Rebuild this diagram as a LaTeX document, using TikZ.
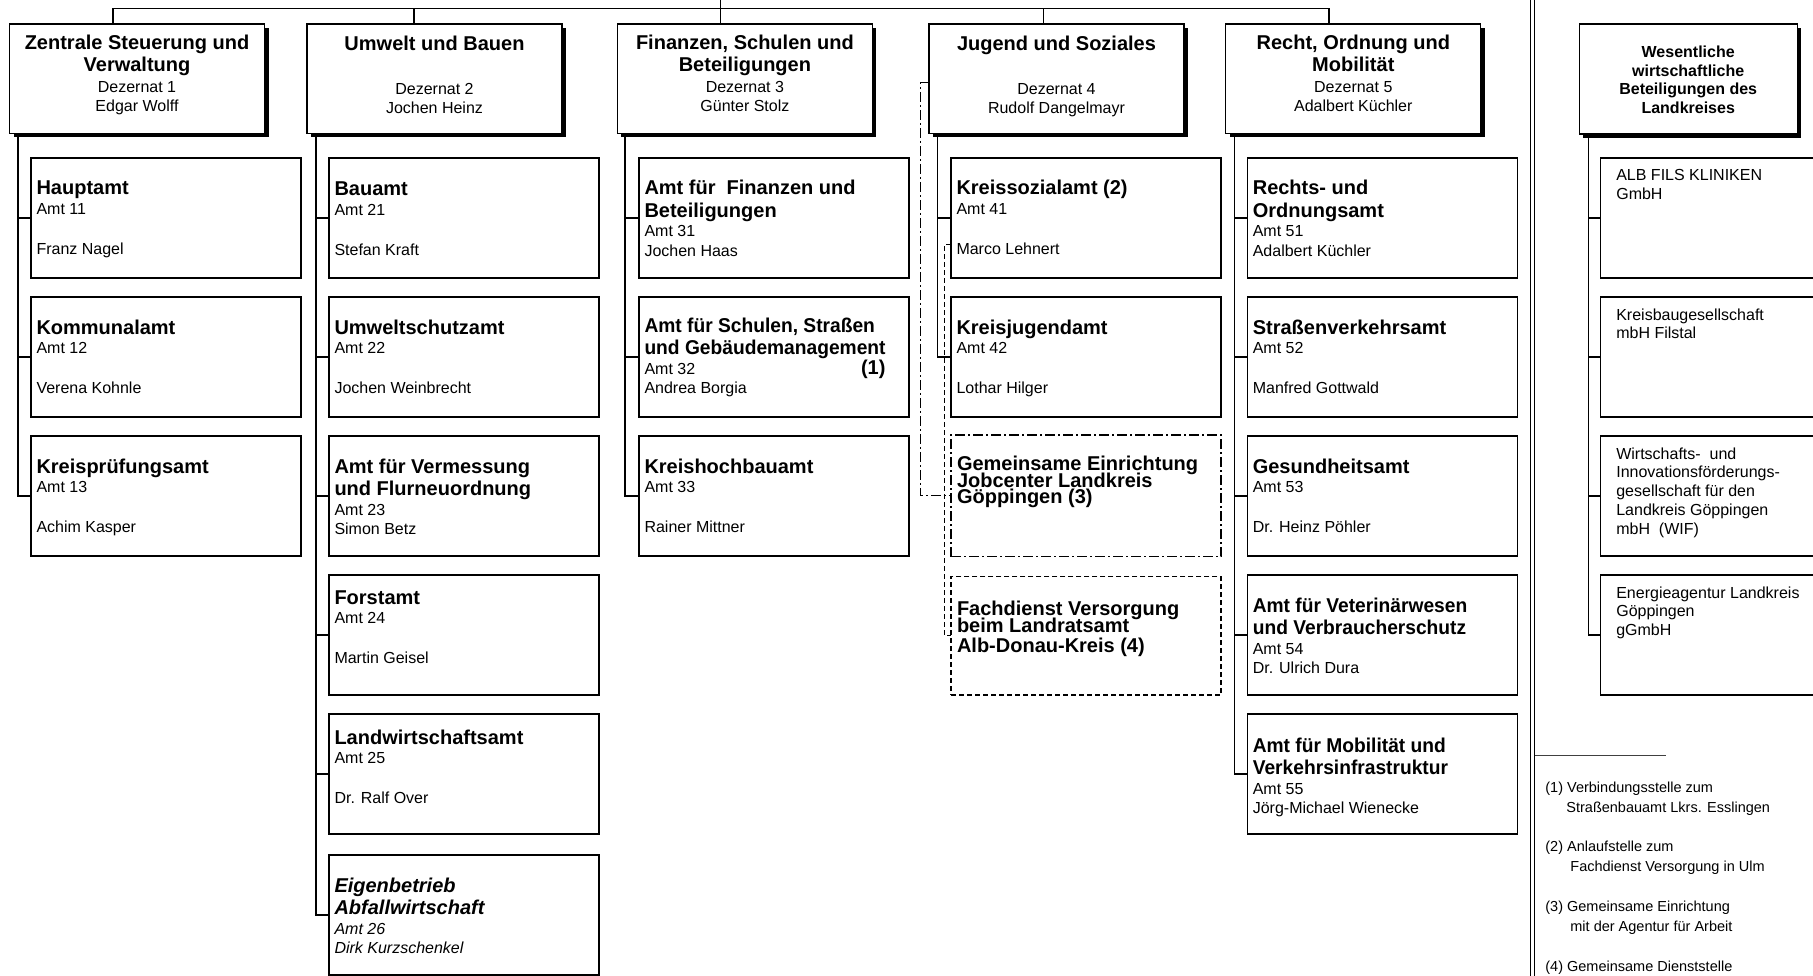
\documentclass[tikz,border=0pt]{standalone}
\usepackage{fontspec}
\setmainfont{Liberation Sans}
\usetikzlibrary{shadows,calc}

% horizontally condensed line (as in the original layout)
\newcommand{\sx}[1]{\scalebox{0.96}[1]{#1}}
% Amt box with one title line
\newcommand{\amtA}[4][37]{\parbox[c][120pt][t]{259pt}{\lineskiplimit=-100pt\fontsize{16}{19.5}\selectfont\raggedright\rule{0pt}{#1pt}{\fontsize{20}{20}\selectfont\bfseries #2}\\{#3}\\[20.5pt]{#4}}}
% Amt box with two title lines
\newcommand{\amtB}[5][37]{\parbox[c][120pt][t]{259pt}{\lineskiplimit=-100pt\fontsize{16}{19.5}\selectfont\raggedright\rule{0pt}{#1pt}{\fontsize{20}{20}\selectfont\bfseries #2}\\[3pt]{\fontsize{20}{20}\selectfont\bfseries #3}\\{#4}\\{#5}}}
% Dezernat box, two title lines
\newcommand{\dezA}[4]{\parbox[c][109.5pt][t]{245pt}{\lineskiplimit=-100pt\fontsize{16}{19}\selectfont\centering\rule{0pt}{26pt}{\fontsize{20}{20}\selectfont\bfseries #1}\\[3pt]{\fontsize{20}{20}\selectfont\bfseries #2}\\[1.6pt]{#3}\\{#4}}}
% Dezernat box, one title line
\newcommand{\dezB}[3]{\parbox[c][109.5pt][t]{245pt}{\lineskiplimit=-100pt\fontsize{16}{19}\selectfont\centering\rule{0pt}{26.2pt}{\fontsize{20}{20}\selectfont\bfseries #1}\\[25pt]{#2}\\{#3}}}
% right column boxes
\newcommand{\rtext}[1]{\parbox[c][120pt][t]{200pt}{\lineskiplimit=-100pt\fontsize{16}{18.75}\selectfont\raggedright\rule{0pt}{23pt}#1}}
\newcommand{\fnote}[1]{\parbox[t]{260pt}{\fontsize{14.5}{20}\selectfont #1}}

\begin{document}
\begin{tikzpicture}[x=1pt,y=-1pt,
  amt/.style={draw=black, line width=1.3pt, fill=white, inner xsep=5.5pt, inner ysep=0pt, outer sep=0pt, anchor=north west},
  rbox/.style={amt, inner xsep=16pt},
  dez/.style={draw=black, line width=1.3pt, fill=white, inner xsep=5pt, inner ysep=0pt, outer sep=0pt, anchor=north west,
     drop shadow={shadow xshift=4pt, shadow yshift=-4pt, opacity=1, fill=black}},
  link/.style={draw=black, line width=1.3pt},
  dashdotline/.style={dash pattern=on 10pt off 3pt on 2pt off 3pt},
  dashline/.style={dash pattern=on 5pt off 3pt},
  fn/.style={anchor=base west, inner sep=0pt}
]
\useasboundingbox (0,0) rectangle (1813,976);
\clip (0,0) rectangle (1813,976);
\fill[white] (0,0) rectangle (1813,976);

% ---------- Dezernate ----------
\node[dez] (d1) at (9.5,24) {\dezA{Zentrale Steuerung und}{Verwaltung}{Dezernat 1}{Edgar Wolff}};
\node[dez] (d2) at (307,24) {\dezB{Umwelt und Bauen}{Dezernat 2}{Jochen Heinz}};
\node[dez] (d3) at (617.4,24) {\dezA{Finanzen, Schulen und}{Beteiligungen}{Dezernat 3}{Günter Stolz}};
\node[dez] (d4) at (929,24) {\dezB{Jugend und Soziales}{Dezernat 4}{Rudolf Dangelmayr}};
\node[dez] (d5) at (1225.8,24) {\dezA{Recht, Ordnung und}{Mobilität}{Dezernat 5}{Adalbert Küchler}};
\node[dez, inner xsep=4pt] (w) at (1579.2,24) {\parbox[c][110pt][t]{210pt}{\lineskiplimit=-100pt\fontsize{16}{18.7}\selectfont\bfseries\centering\rule{0pt}{33.5pt}Wesentliche\\wirtschaftliche\\Beteiligungen des\\Landkreises}};

% ---------- column 1 ----------
\node[amt] (a11) at (31,158) {\amtA{Hauptamt}{Amt 11}{Franz Nagel}};
\node[amt] (a12) at (31,297) {\amtA{Kommunalamt}{Amt 12}{Verena Kohnle}};
\node[amt] (a13) at (31,436) {\amtA{Kreisprüfungsamt}{Amt 13}{Achim Kasper}};

% ---------- column 2 ----------
\node[amt] (a21) at (329,158) {\amtA[38]{Bauamt}{Amt 21}{Stefan Kraft}};
\node[amt] (a22) at (329,297) {\amtA{Umweltschutzamt}{Amt 22}{Jochen Weinbrecht}};
\node[amt] (a23) at (329,436) {\amtB{Amt für Vermessung}{und Flurneuordnung}{Amt 23}{Simon Betz}};
\node[amt] (a24) at (329,575) {\amtA[29]{Forstamt}{Amt 24}{Martin Geisel}};
\node[amt] (a25) at (329,714) {\amtA[30]{Landwirtschaftsamt}{Amt 25}{Dr. Ralf Over}};
\node[amt] (a26) at (329,855) {\amtB{\itshape Eigenbetrieb}{\itshape Abfallwirtschaft}{\itshape Amt 26}{\itshape Dirk Kurzschenkel}};

% ---------- column 3 ----------
\node[amt] (a31) at (639,158) {\amtB{Amt für\ \ Finanzen und}{Beteiligungen}{Amt 31}{Jochen Haas}};
\node[amt] (a32) at (639,297) {\amtB[35]{\sx{Amt für Schulen, Straßen}}{\sx{und Gebäudemanagement}}{Amt 32\hspace{0pt plus 1filll}{\fontsize{20}{20}\selectfont\bfseries (1)}\kern18pt}{Andrea Borgia}};
\node[amt] (a33) at (639,436) {\amtA{Kreishochbauamt}{Amt 33}{Rainer Mittner}};

% ---------- column 4 ----------
\node[amt] (a41) at (951,158) {\amtA{Kreissozialamt (2)}{Amt 41}{Marco Lehnert}};
\node[amt] (a42) at (951,297) {\amtA{Kreisjugendamt}{Amt 42}{Lothar Hilger}};
\node[amt, dashdotline, line width=1.2pt, inner xsep=6pt] (job) at (951,435) {\parbox[c][121.7pt][t]{258pt}{\lineskiplimit=-100pt\fontsize{20}{16.7}\selectfont\bfseries\raggedright\rule{0pt}{35.5pt}Gemeinsame Einrichtung\\Jobcenter Landkreis\\Göppingen (3)}};
\node[amt, dashline, line width=1.2pt, inner xsep=6pt] (fach) at (951,576.7) {\parbox[c][118.3pt][t]{258pt}{\lineskiplimit=-100pt\fontsize{20}{17.4}\selectfont\bfseries\raggedright\rule{0pt}{38.8pt}Fachdienst Versorgung\\beim Landratsamt\\[2pt]Alb-Donau-Kreis (4)}};

% ---------- column 5 ----------
\node[amt] (a51) at (1247.3,158) {\amtB{Rechts- und}{Ordnungsamt}{Amt 51}{Adalbert Küchler}};
\node[amt] (a52) at (1247.3,297) {\amtA{Straßenverkehrsamt}{Amt 52}{Manfred Gottwald}};
\node[amt] (a53) at (1247.3,436) {\amtA{Gesundheitsamt}{Amt 53}{Dr. Heinz Pöhler}};
\node[amt] (a54) at (1247.3,575) {\amtB{\sx{Amt für Veterinärwesen}}{\sx{und Verbraucherschutz}}{Amt 54}{Dr. Ulrich Dura}};
\node[amt] (a55) at (1247.3,714) {\amtB[38]{\sx{Amt für Mobilität und}}{\sx{Verkehrsinfrastruktur}}{Amt 55}{Jörg-Michael Wienecke}};

% ---------- right column ----------
\node[rbox] (b1) at (1600.3,158) {\rtext{ALB FILS KLINIKEN\\GmbH}};
\node[rbox] (b2) at (1600.3,297) {\rtext{Kreisbaugesellschaft\\mbH Filstal}};
\node[rbox] (b3) at (1600.3,436) {\rtext{Wirtschafts-\ \ und\\Innovationsförderungs-\\gesellschaft für den\\Landkreis Göppingen\\mbH\ \ (WIF)}};
\node[rbox] (b4) at (1600.3,575) {\rtext{Energieagentur Landkreis\\Göppingen\\gGmbH}};

% ---------- top connectors ----------
\coordinate (top) at (720.6,0);
\coordinate (h1) at (113,8.5);
\coordinate (h2) at (414,8.5);
\coordinate (h4) at (1043.7,8.5);
\coordinate (h5) at (1329,8.5);
\draw[link] (h1 |- d1.north) -- (h1) -- (h5) -- (h5 |- d5.north);
\draw[link] (h2) -- (h2 |- d2.north);
\draw[link] (top) -- (top |- d3.north);
\draw[link] (h4) -- (h4 |- d4.north);

% ---------- column connectors ----------
\coordinate (v1) at (18,0);
\coordinate (v2) at (316,0);
\coordinate (v3) at (625,0);
\coordinate (v4) at (937.3,0);
\coordinate (v5) at (1234.4,0);
\coordinate (vr) at (1588.2,0);

\draw[link] (v1 |- d1.south) |- (a13.west);
\foreach \n in {a11,a12} \draw[link] (\n.west) -- (\n.west -| v1);

\draw[link] (v2 |- d2.south) |- (a26.west);
\foreach \n in {a21,a22,a23,a24,a25} \draw[link] (\n.west) -- (\n.west -| v2);

\draw[link] (v3 |- d3.south) |- (a33.west);
\foreach \n in {a31,a32} \draw[link] (\n.west) -- (\n.west -| v3);

\draw[link] (v4 |- d4.south) |- (a42.west);
\draw[link] (a41.west) -- (a41.west -| v4);

\draw[link] (v5 |- d5.south) |- (a55.west);
\foreach \n in {a51,a52,a53,a54} \draw[link] (\n.west) -- (\n.west -| v5);

\draw[link] (vr |- w.south) |- (b4.west);
\foreach \n in {b1,b2,b3} \draw[link] (\n.west) -- (\n.west -| vr);

% ---------- dashed links in column 4 ----------
\coordinate (jx) at (920.7,0);
\coordinate (kx) at (944.8,0);
\coordinate (d4l) at ($(d4.west)+(0,3.5)$);
\coordinate (a41l) at ($(a41.west)+(0,26.5)$);
\draw[link, line width=1.2pt, dashdotline] (d4l) -- (d4l -| jx) |- (job.west);
\draw[link, line width=1.2pt, dashline] (a41l) -- (a41l -| kx) |- (fach.west);

% ---------- separator ----------
\draw[line width=1.5pt] (1530.5,0) -- (1530.5,976);
\draw[line width=1.5pt] (1534.5,0) -- (1534.5,976);
\draw[line width=1.5pt, black!75] (1534.5,755.7) -- (1666.4,755.7);

% ---------- footnotes ----------
\node[fn] (f1) at (1545.2,792.5) {\fnote{(1) Verbindungsstelle zum\\\hspace*{21pt}Straßenbauamt Lkrs. Esslingen}};
\node[fn] (f2) at (1545.2,851.9) {\fnote{(2) Anlaufstelle zum\\\hspace*{25pt}Fachdienst Versorgung in Ulm}};
\node[fn] (f3) at (1545.2,911.9) {\fnote{(3) Gemeinsame Einrichtung\\\hspace*{25pt}mit der Agentur für Arbeit}};
\node[fn] (f4) at (1545.2,971.2) {\fnote{(4) Gemeinsame Dienststelle}};
\end{tikzpicture}
\end{document}
